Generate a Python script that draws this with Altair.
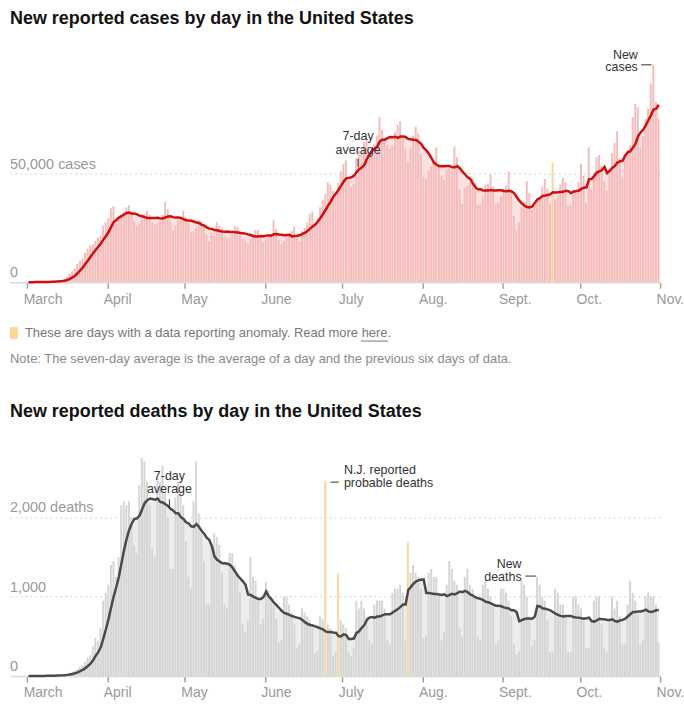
import altair as alt
import pandas as pd
import numpy as np

# ---------------- data ----------------
START = "2020-03-02"  # first daily bar

cases = [
    20, 30, 40, 70, 80, 110, 120,
    200, 290, 400, 500, 650, 700, 900,
    1500, 2500, 4000, 5000, 6400, 8500, 10000,
    11000, 13500, 15500, 17000, 17500, 19000, 20500,
    21500, 26000, 27500, 29500, 34000, 35000, 27000,
    29000, 31000, 32500, 34500, 35500, 31000, 28000,
    26000, 27000, 30500, 31500, 33000, 31000, 27500,
    26500, 27500, 28500, 31000, 37000, 33500, 28000,
    24000, 26000, 28500, 30000, 33000, 30000, 27500,
    23000, 23500, 25000, 28500, 28000, 26500, 22000,
    19000, 22500, 21500, 27500, 26000, 25000, 21000,
    20000, 20500, 22000, 26000, 25500, 23500, 20000,
    19000, 18000, 20000, 22500, 24000, 24000, 21000,
    18500, 20000, 21000, 21500, 28500, 24500, 19500,
    17500, 19000, 21500, 22000, 23500, 25500, 20500,
    19000, 23500, 25000, 27500, 31500, 32500, 26500,
    29000, 34500, 38000, 40500, 46000, 45000, 42000,
    40000, 45500, 51000, 54500, 56000, 47000, 44000,
    45000, 57000, 60500, 59500, 64500, 66000, 58000,
    58000, 63500, 67500, 76000, 70000, 66000, 63000,
    61500, 63000, 69000, 72500, 74000, 66000, 61500,
    55500, 62000, 67500, 71500, 68500, 59000, 48500,
    47500, 51500, 53500, 56000, 62000, 54500, 49000,
    47000, 52000, 54000, 51500, 62500, 57500, 42500,
    36000, 43500, 44500, 46000, 48000, 45500, 35500,
    36000, 39500, 45000, 45500, 49500, 44000, 36000,
    36500, 39500, 43000, 44500, 51000, 42000, 30500,
    24000, 27500, 34500, 37000, 46500, 41000, 33500,
    35500, 38500, 39000, 44000, 47500, 43000, 36000,
    55000, 38000, 39500, 45000, 48000, 46000, 35000,
    35500, 42500, 41500, 46000, 54500, 49000, 36500,
    62000, 43000, 50500, 57500, 58500, 53000, 46500,
    42000, 51000, 59500, 64000, 69500, 57000, 48500,
    58500, 61000, 63000, 76000, 82000, 80500, 62000,
    67000, 75000, 80000, 91500, 100000, 83000, 75000,
]

deaths = [
    1, 1, 3, 1, 2, 3, 2,
    4, 6, 7, 10, 10, 10, 12,
    25, 30, 40, 55, 70, 90, 120,
    140, 180, 230, 260, 370, 480, 440,
    600, 950, 1050, 1150, 1400, 1450, 1250,
    1500, 2150, 2200, 2150, 2200, 2000, 1650,
    1550, 2400, 2750, 2700, 2450, 2150, 1600,
    1500, 2500, 2450, 2650, 2300, 2000, 1350,
    1350, 2250, 2450, 2300, 2150, 1700, 1250,
    1100, 2200, 2700, 2050, 1800, 1450, 900,
    900, 1650, 1800, 1750, 1650, 1300, 900,
    850, 1550, 1550, 1400, 1300, 1050, 650,
    550, 700, 1500, 1250, 1200, 950, 650,
    720, 1180, 1080, 1000, 900, 720, 420,
    450, 1000, 1000, 900, 800, 650, 350,
    400, 850, 800, 750, 700, 600, 280,
    320, 750, 720, 2459, 650, 600, 250,
    300, 1296, 700, 650, 600, 300, 250,
    350, 950, 850, 950, 850, 750, 450,
    400, 900, 950, 950, 950, 850, 450,
    400, 1050, 1100, 1100, 1150, 1050, 450,
    1689, 1300, 1400, 1300, 1250, 1100, 480,
    500, 1300, 1350, 1250, 1250, 1050, 450,
    550, 1150, 1450, 1350, 1200, 1150, 600,
    500, 1250, 1350, 1150, 1100, 1000, 500,
    450, 1150, 1200, 1100, 1000, 900, 400,
    450, 1100, 1100, 1050, 950, 750, 400,
    270, 310, 1200, 1150, 1000, 750, 380,
    450, 1250, 1150, 1000, 950, 700, 300,
    300, 1100, 1050, 900, 900, 750, 300,
    300, 1000, 1000, 900, 850, 700, 350,
    350, 700, 950, 1000, 1000, 650, 350,
    300, 700, 1000, 850, 950, 750, 400,
    400, 900, 1200, 1050, 950, 800, 400,
    450, 1000, 1050, 1000, 1000, 900, 420,
]

CASES_ANOMALY_DAYS = [203]
CASES_EXCLUDED_FROM_AVG = [203]
DEATHS_ANOMALY_DAYS = [115, 120, 147]
DEATHS_EXCLUDED_FROM_AVG = [115, 120]

MONTH_TICKS = [0, 31, 61, 92, 122, 153, 184, 214, 245]
MONTH_LABELS = ["March", "April", "May", "June", "July", "Aug.", "Sept.", "Oct.", "Nov."]

CASES_YLABELS = [0, 50000]
CASES_YTEXT = ["0", "50,000 cases"]
DEATHS_YLABELS = [0, 1000, 2000]
DEATHS_YTEXT = ["0", "1,000", "2,000 deaths"]

# ---------------- style ----------------
FONT = "Liberation Sans, Arial, Helvetica, sans-serif"
XMIN = -6.67
PLOT_W = 652
ANOM = "#fcd79b"


def frame(values, anomalies, excluded):
    n = len(values)
    df = pd.DataFrame({"pos": np.arange(n), "value": values})
    df["date"] = pd.date_range(START, periods=n).strftime("%Y-%m-%d")
    df["end"] = df["pos"] + 1
    df["mid"] = df["pos"] + 0.5
    df["zero"] = 0
    df["anomaly"] = df["pos"].isin(anomalies)
    masked = df["value"].astype(float).where(~df["pos"].isin(excluded))
    df["avg"] = masked.rolling(7, min_periods=1).mean()
    return df


label_expr = ""
for t, l in zip(MONTH_TICKS, MONTH_LABELS):
    label_expr += f"datum.value == {t} ? '{l}' : "
label_expr += "''"

x_scale = alt.Scale(domain=[XMIN, 245], nice=False, zero=False)
x_axis = alt.Axis(values=MONTH_TICKS, labelExpr=label_expr, title=None, grid=False,
                  domainColor="#d9d9d9", domainWidth=1.5, tickColor="#a0a0a0",
                  tickSize=6, tickWidth=1.5, labelColor="#999999", labelFontSize=14,
                  labelFont=FONT, labelAlign="left", labelOffset=-4, labelPadding=4,
                  labelBaseline="top")


def panel(df, ymax, height, grid_vals, ylab_vals, ylab_text, bar_c, area_c, line_c,
          title, title_y, ann_center, ann_left, ann_right, ann_vlines, ann_hlines, extra=None):
    y_scale = alt.Scale(domain=[0, ymax], nice=False, zero=True)
    y_axis = alt.Axis(values=grid_vals, grid=True, gridDash=[2, 3], gridColor="#d0d0d0",
                      gridWidth=1, labels=False, ticks=False, domain=False, title=None)
    X = lambda f: alt.X(f, scale=x_scale, axis=x_axis)
    Y = lambda f: alt.Y(f, scale=y_scale, axis=y_axis)

    base = alt.Chart(df)
    area = base.mark_area(color=area_c, interpolate="linear").encode(x=X("mid:Q"), y=Y("avg:Q"))
    bars = base.mark_rect(x2Offset=-0.6).encode(
        x=X("pos:Q"), x2="end:Q", y=Y("value:Q"), y2="zero:Q",
        color=alt.condition("datum.anomaly", alt.value(ANOM), alt.value(bar_c)))
    line = base.mark_line(color=line_c, strokeWidth=2.5, interpolate="linear").encode(
        x=X("mid:Q"), y=Y("avg:Q"))

    ylab = alt.Chart(pd.DataFrame({"v": ylab_vals, "t": ylab_text})).mark_text(
        align="left", baseline="middle", dy=-9, fontSize=14.5, color="#999999", font=FONT
    ).encode(x=alt.value(0), y=Y("v:Q"), text="t:N")

    layers = [area, bars, line, ylab]

    def texts(rows, align):
        d = pd.DataFrame(rows, columns=["p", "v", "t"])
        return alt.Chart(d).mark_text(align=align, baseline="middle", fontSize=12.5,
                                      color="#333333", font=FONT).encode(
            x=X("p:Q"), y=Y("v:Q"), text="t:N")

    if ann_center:
        layers.append(texts(ann_center, "center"))
    if ann_left:
        layers.append(texts(ann_left, "left"))
    if ann_right:
        layers.append(texts(ann_right, "right"))
    if ann_vlines:
        d = pd.DataFrame(ann_vlines, columns=["p", "v", "v2"])
        layers.append(alt.Chart(d).mark_rule(color="#333333", strokeWidth=1).encode(
            x=X("p:Q"), y=Y("v:Q"), y2="v2:Q"))
    if ann_hlines:
        d = pd.DataFrame(ann_hlines, columns=["p", "p2", "v"])
        layers.append(alt.Chart(d).mark_rule(color="#333333", strokeWidth=1).encode(
            x=X("p:Q"), x2="p2:Q", y=Y("v:Q")))

    ttl = alt.Chart(pd.DataFrame({"t": [title]})).mark_text(
        align="left", baseline="middle", fontSize=18, fontWeight="bold",
        color="#121212", font=FONT).encode(x=alt.value(0), y=alt.value(title_y), text="t:N")
    layers.append(ttl)
    if extra:
        layers.extend(extra)
    return alt.layer(*layers).properties(width=PLOT_W, height=height)


cdf = frame(cases, CASES_ANOMALY_DAYS, CASES_EXCLUDED_FROM_AVG)
ddf = frame(deaths, DEATHS_ANOMALY_DAYS, DEATHS_EXCLUDED_FROM_AVG)

one = pd.DataFrame({"a": [1]})
legend_sq = alt.Chart(one).mark_rect(color=ANOM).encode(
    x=alt.value(0), x2=alt.value(8), y=alt.value(263), y2=alt.value(275))
legend_txt = alt.Chart(pd.DataFrame({"t": ["These are days with a data reporting anomaly. Read more here."]})).mark_text(
    align="left", baseline="middle", fontSize=13, color="#777777", font=FONT
).encode(x=alt.value(15), y=alt.value(269), text="t:N")
legend_ul = alt.Chart(one).mark_rule(color="#777777", strokeWidth=1).encode(
    x=alt.value(352), x2=alt.value(379), y=alt.value(277))
note_txt = alt.Chart(pd.DataFrame({"t": ["Note: The seven-day average is the average of a day and the previous six days of data."]})).mark_text(
    align="left", baseline="middle", fontSize=13, color="#8a8a8a", font=FONT
).encode(x=alt.value(0), y=alt.value(295), text="t:N")

cases_chart = panel(
    cdf, 100000, 218, [50000], CASES_YLABELS, CASES_YTEXT,
    "#f5bcbc", "#fbe1e1", "#cf1010",
    "New reported cases by day in the United States", -46,
    ann_center=[(128.1, 67100, "7-day"), (128.1, 61000, "average")],
    ann_left=None,
    ann_right=[(236.4, 104600, "New"), (236.4, 98800, "cases")],
    ann_vlines=[(128.1, 56800, 52900)],
    ann_hlines=[(237.65, 241.7, 100000)],
    extra=[legend_sq, legend_txt, legend_ul, note_txt],
)

deaths_chart = panel(
    ddf, 2800, 223, [1000, 2000], DEATHS_YLABELS, DEATHS_YTEXT,
    "#d5d5d5", "#ececec", "#4a4a4a",
    "New reported deaths by day in the United States", -41.6,
    ann_center=[(55.05, 2514, "7-day"), (55.05, 2354, "average")],
    ann_left=[(122.6, 2598, "N.J. reported"), (122.6, 2430, "probable deaths")],
    ann_right=[(191.4, 1413, "New"), (191.4, 1250, "deaths")],
    ann_vlines=[(55.05, 2225, 2116)],
    ann_hlines=[(117.4, 120.6, 2442), (192.9, 197.0, 1259)],
)

chart = alt.vconcat(cases_chart, deaths_chart, spacing=37).properties(
    padding={"left": 10, "top": 9, "right": 0, "bottom": 0}
).configure(font=FONT).configure_view(stroke=None)

chart.save("out.html", embed_options={"renderer": "svg", "actions": False})
